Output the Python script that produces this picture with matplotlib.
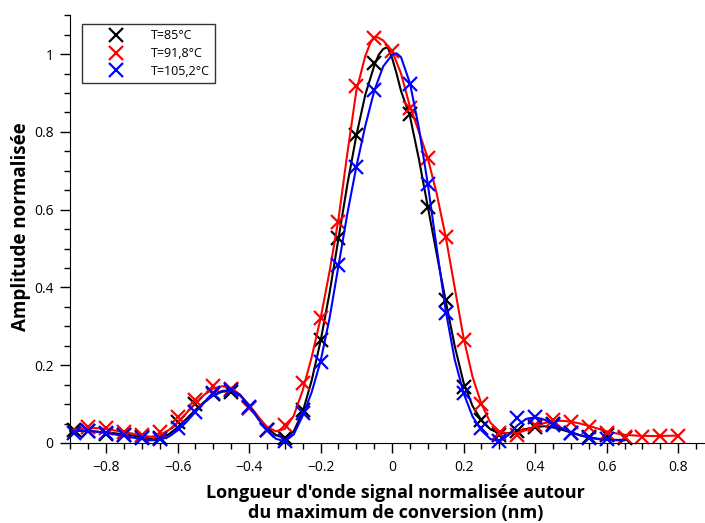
import matplotlib
matplotlib.use("Agg")
import matplotlib.pyplot as plt
from matplotlib.ticker import MultipleLocator, FixedLocator, FixedFormatter

plt.rcParams['font.family'] = ['Open Sans', 'DejaVu Sans']

# --- mesures (croix) ---
x_black = [-0.89, -0.85, -0.80, -0.75, -0.70, -0.65, -0.60, -0.55, -0.50, -0.45,
           -0.40, -0.35, -0.30, -0.25, -0.20, -0.15, -0.10, -0.05, 0.05, 0.10,
           0.15, 0.20, 0.25, 0.30, 0.35, 0.40, 0.45, 0.50, 0.55, 0.60, 0.65]
y_black = [0.033, 0.030, 0.022, 0.020, 0.015, 0.012, 0.055, 0.100, 0.125, 0.130,
           0.090, 0.033, 0.013, 0.085, 0.265, 0.527, 0.792, 0.977, 0.846, 0.607,
           0.368, 0.144, 0.059, 0.020, 0.030, 0.040, 0.050, 0.026, 0.015, 0.020, 0.013]

x_red = [-0.85, -0.80, -0.75, -0.70, -0.65, -0.60, -0.55, -0.50, -0.45, -0.40,
         -0.35, -0.30, -0.25, -0.20, -0.15, -0.10, -0.05, 0.00, 0.05, 0.10,
         0.15, 0.20, 0.25, 0.30, 0.35, 0.40, 0.45, 0.50, 0.55, 0.60,
         0.65, 0.70, 0.75, 0.80]
y_red = [0.041, 0.038, 0.028, 0.020, 0.028, 0.067, 0.110, 0.147, 0.138, 0.090,
         0.033, 0.046, 0.154, 0.321, 0.568, 0.918, 1.041, 1.008, 0.861, 0.733,
         0.530, 0.265, 0.100, 0.026, 0.020, 0.046, 0.059, 0.054, 0.041, 0.026,
         0.015, 0.015, 0.018, 0.018]

x_blue = [-0.89, -0.85, -0.80, -0.75, -0.70, -0.65, -0.60, -0.55, -0.50, -0.45,
          -0.40, -0.35, -0.30, -0.25, -0.20, -0.15, -0.10, -0.05, 0.05, 0.10,
          0.15, 0.20, 0.25, 0.30, 0.35, 0.40, 0.45, 0.50, 0.55, 0.60]
y_blue = [0.026, 0.030, 0.025, 0.020, 0.012, 0.010, 0.039, 0.080, 0.128, 0.136,
          0.093, 0.033, 0.005, 0.077, 0.208, 0.458, 0.710, 0.907, 0.923, 0.666,
          0.334, 0.128, 0.039, 0.005, 0.064, 0.067, 0.046, 0.026, 0.013, 0.010]

# --- courbes ajustees ---
xc_black = [-0.900, -0.875, -0.850, -0.825, -0.800, -0.775, -0.750, -0.725, -0.700, -0.675,
            -0.650, -0.625, -0.600, -0.575, -0.550, -0.525, -0.500, -0.475, -0.450, -0.425,
            -0.400, -0.375, -0.350, -0.325, -0.300, -0.275, -0.250, -0.225, -0.200, -0.175,
            -0.150, -0.125, -0.100, -0.075, -0.050, -0.0375, -0.025, -0.0125, 0.000, 0.0125,
            0.025, 0.050, 0.075, 0.100, 0.125, 0.150, 0.175, 0.200, 0.225, 0.250,
            0.275, 0.300, 0.325, 0.350, 0.375, 0.400, 0.425, 0.450, 0.475, 0.500,
            0.525, 0.550, 0.575, 0.600, 0.625, 0.650]
yc_black = [0.035, 0.033, 0.031, 0.029, 0.027, 0.025, 0.022, 0.019, 0.015, 0.011,
            0.012, 0.022, 0.040, 0.062, 0.085, 0.106, 0.122, 0.132, 0.133, 0.122,
            0.098, 0.068, 0.040, 0.020, 0.013, 0.030, 0.080, 0.160, 0.262, 0.385,
            0.525, 0.665, 0.790, 0.895, 0.970, 0.998, 1.013, 1.018, 0.990, 0.950,
            0.905, 0.840, 0.730, 0.607, 0.485, 0.365, 0.250, 0.155, 0.095, 0.058,
            0.035, 0.025, 0.025, 0.030, 0.036, 0.041, 0.043, 0.040, 0.034, 0.027,
            0.020, 0.015, 0.011, 0.009, 0.008, 0.008]

xc_red = [-0.900, -0.875, -0.850, -0.825, -0.800, -0.775, -0.750, -0.725, -0.700, -0.675,
          -0.650, -0.625, -0.600, -0.575, -0.550, -0.525, -0.500, -0.475, -0.450, -0.425,
          -0.400, -0.375, -0.350, -0.325, -0.300, -0.275, -0.250, -0.225, -0.200, -0.175,
          -0.150, -0.125, -0.100, -0.075, -0.060, -0.050, -0.040, -0.025, -0.0125, 0.000,
          0.025, 0.050, 0.075, 0.100, 0.125, 0.150, 0.175, 0.200, 0.225, 0.250,
          0.275, 0.300, 0.325, 0.350, 0.375, 0.400, 0.425, 0.450, 0.475, 0.500,
          0.525, 0.550, 0.575, 0.600, 0.625, 0.650, 0.700, 0.750, 0.800]
yc_red = [0.033, 0.037, 0.039, 0.038, 0.036, 0.032, 0.028, 0.024, 0.019, 0.016,
          0.020, 0.033, 0.052, 0.077, 0.102, 0.124, 0.140, 0.146, 0.142, 0.124,
          0.096, 0.066, 0.042, 0.030, 0.036, 0.070, 0.135, 0.220, 0.320, 0.440,
          0.575, 0.745, 0.905, 0.995, 1.030, 1.042, 1.043, 1.035, 1.022, 1.008,
          0.950, 0.865, 0.800, 0.732, 0.640, 0.530, 0.400, 0.270, 0.170, 0.100,
          0.052, 0.030, 0.024, 0.026, 0.033, 0.043, 0.051, 0.056, 0.057, 0.055,
          0.050, 0.044, 0.037, 0.030, 0.025, 0.021, 0.018, 0.018, 0.019]

xc_blue = [-0.900, -0.875, -0.850, -0.825, -0.800, -0.775, -0.750, -0.725, -0.700, -0.675,
           -0.650, -0.625, -0.600, -0.575, -0.550, -0.525, -0.500, -0.475, -0.450, -0.425,
           -0.400, -0.375, -0.350, -0.325, -0.300, -0.275, -0.250, -0.225, -0.200, -0.175,
           -0.150, -0.125, -0.100, -0.075, -0.050, -0.025, 0.000, 0.0125, 0.025, 0.050,
           0.075, 0.100, 0.125, 0.150, 0.175, 0.200, 0.225, 0.250, 0.275, 0.300,
           0.325, 0.350, 0.375, 0.400, 0.425, 0.450, 0.475, 0.500, 0.525, 0.550,
           0.575, 0.600, 0.625, 0.650]
yc_blue = [0.030, 0.031, 0.031, 0.029, 0.026, 0.022, 0.018, 0.014, 0.010, 0.007,
           0.008, 0.016, 0.032, 0.054, 0.080, 0.104, 0.123, 0.134, 0.136, 0.124,
           0.096, 0.062, 0.032, 0.011, 0.004, 0.022, 0.070, 0.130, 0.210, 0.320,
           0.455, 0.590, 0.710, 0.815, 0.905, 0.968, 0.998, 1.002, 0.992, 0.925,
           0.810, 0.665, 0.500, 0.340, 0.215, 0.128, 0.068, 0.032, 0.010, 0.004,
           0.020, 0.045, 0.062, 0.066, 0.060, 0.049, 0.038, 0.028, 0.020, 0.014,
           0.010, 0.008, 0.007, 0.007]

labels = ["T=85°C", "T=91,8°C", "T=105,2°C"]
colors = ["black", "red", "blue"]

x_ticks = [-0.8, -0.6, -0.4, -0.2, 0.0, 0.2, 0.4, 0.6, 0.8]
x_ticklabels = ["\u22120.8", "\u22120.6", "\u22120.4", "\u22120.2", "0", "0.2", "0.4", "0.6", "0.8"]
y_ticks = [0.0, 0.2, 0.4, 0.6, 0.8, 1.0]
y_ticklabels = ["0", "0.2", "0.4", "0.6", "0.8", "1"]

fig = plt.figure(figsize=(7.05, 5.23), dpi=100)
ax = fig.add_axes([0.0996, 0.153, 0.9004, 0.818])

series = [(x_black, y_black, xc_black, yc_black),
          (x_red, y_red, xc_red, yc_red),
          (x_blue, y_blue, xc_blue, yc_blue)]
handles = []
for (xm, ym, xc, yc), col, lab in zip(series, colors, labels):
    ax.plot(xc, yc, color=col, lw=1.5, clip_on=False)
    h, = ax.plot(xm, ym, ls='none', marker='x', ms=10, mew=1.6, color=col, label=lab, clip_on=False)
    handles.append(h)

ax.set_xlim(-0.9, 0.875)
ax.set_ylim(0, 1.1)

ax.xaxis.set_major_locator(FixedLocator(x_ticks))
ax.xaxis.set_major_formatter(FixedFormatter(x_ticklabels))
ax.xaxis.set_minor_locator(MultipleLocator(0.05))
ax.yaxis.set_major_locator(FixedLocator(y_ticks))
ax.yaxis.set_major_formatter(FixedFormatter(y_ticklabels))
ax.yaxis.set_minor_locator(MultipleLocator(0.05))

ax.tick_params(which='major', direction='out', length=7, width=1, labelsize=10, pad=5)
ax.tick_params(which='minor', direction='out', length=4, width=1)

for s in ['top', 'right']:
    ax.spines[s].set_visible(False)

ax.set_xlabel("Longueur d'onde signal normalisée autour\ndu maximum de conversion (nm)",
              fontsize=13, fontweight='bold', linespacing=1.15)
ax.xaxis.set_label_coords(0.512, -0.095)
ax.set_ylabel("Amplitude normalisée", fontsize=13.5, fontweight='bold')
ax.yaxis.set_label_coords(-0.061, 0.505)

leg = ax.legend(handles=handles, loc='upper left', bbox_to_anchor=(0.019, 0.979),
                fontsize=9, frameon=True, fancybox=False, handletextpad=0.5,
                labelspacing=0.38, borderpad=0.4, borderaxespad=0, handlelength=4.6,
                markerscale=1.0)
leg.get_frame().set_edgecolor('black')
leg.get_frame().set_linewidth(1)

fig.savefig("out.png", dpi=100)
